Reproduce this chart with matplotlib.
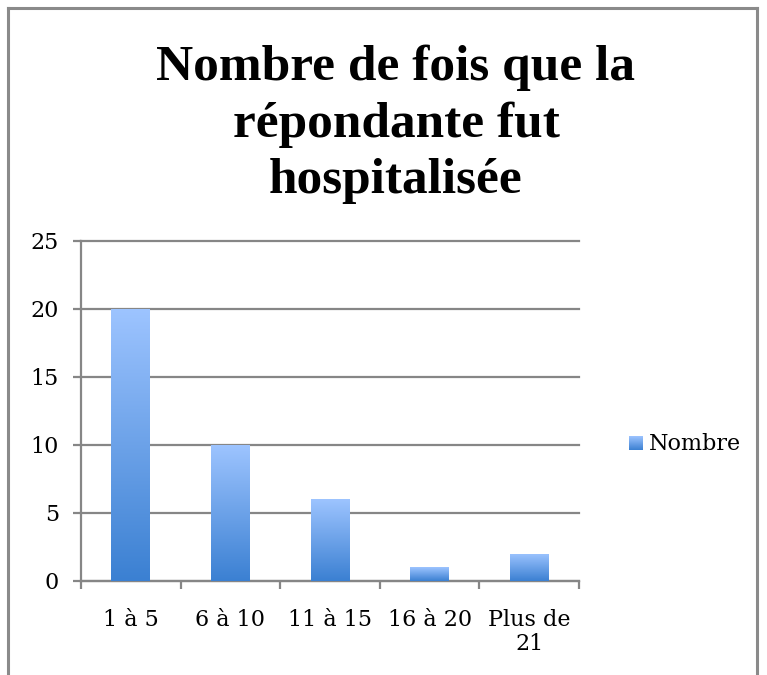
import matplotlib

matplotlib.use("Agg")
import matplotlib.pyplot as plt
import numpy as np
from matplotlib.colors import LinearSegmentedColormap
from matplotlib.lines import Line2D

# data
categories = ["1 à 5", "6 à 10", "11 à 15", "16 à 20", "Plus de\n21"]
values = [20, 10, 6, 1, 2]
series_name = "Nombre"
title = "Nombre de fois que la\nrépondante fut\nhospitalisée"
y_ticks = [0, 5, 10, 15, 20, 25]

GRID = "#868686"
blue_grad = LinearSegmentedColormap.from_list("bars", ["#3b80d2", "#9dc4ff"])
grad = np.linspace(0, 1, 256).reshape(-1, 1)

fig = plt.figure(figsize=(7.67, 6.75), dpi=100)
ax = fig.add_axes([0.1056, 0.1393, 0.6493, 0.5037])

x = np.arange(len(categories))
bars = ax.bar(x, values, width=0.39, color="none", zorder=3)
for b in bars:
    x0, y0 = b.get_x(), b.get_y()
    im = ax.imshow(grad, cmap=blue_grad, origin="lower", aspect="auto",
                   extent=[x0, x0 + b.get_width(), y0, y0 + b.get_height()],
                   zorder=3)
    im.set_clip_path(b)

ax.set_xlim(-0.5, len(categories) - 0.5)
ax.set_ylim(0, 25)
ax.set_yticks(y_ticks)
ax.grid(axis="y", color=GRID, linewidth=1.6, zorder=1)
for gl in ax.get_ygridlines():
    gl.set_clip_on(False)
ax.set_axisbelow(True)

# category boundaries carry the ticks, labels sit in between
ax.set_xticks(np.arange(len(categories) + 1) - 0.5)
ax.set_xticklabels([])
ax.set_xticks(x, minor=True)
ax.set_xticklabels(categories, minor=True, family="DejaVu Serif", fontsize=16,
                   linespacing=1.15)
ax.tick_params(axis="x", which="minor", length=0, pad=20)
ax.tick_params(axis="x", which="major", length=6, width=1.6, color=GRID)
ax.tick_params(axis="y", length=6, width=1.6, color=GRID, pad=10,
               labelsize=16)
for lab in ax.get_yticklabels():
    lab.set_family("DejaVu Serif")

for side in ("top", "right"):
    ax.spines[side].set_visible(False)
for side in ("left", "bottom"):
    ax.spines[side].set_color(GRID)
    ax.spines[side].set_linewidth(1.6)

fig.text(396 / 767, 0.816, title, ha="center", va="center",
         multialignment="center", family="Liberation Serif",
         fontweight="bold", fontsize=37, linespacing=1.28)

# legend: gradient swatch + label
lax = fig.add_axes([629 / 767, 1 - 450 / 675, 14 / 767, 14 / 675])
lax.imshow(grad, cmap=blue_grad, origin="lower", aspect="auto")
lax.set_axis_off()
fig.text(649 / 767, 1 - 444 / 675, series_name, va="center",
         family="DejaVu Serif", fontsize=16)

# outer chart frame (open at the bottom, as in the reference)
fx0, fx1, fy1 = 8 / 767, 757 / 767, 1 - 8 / 675
for xs, ys in (([fx0, fx0], [0, fy1]), ([fx0, fx1], [fy1, fy1]),
               ([fx1, fx1], [fy1, 0])):
    fig.add_artist(Line2D(xs, ys, transform=fig.transFigure, color="#8a8a8a",
                          linewidth=2.2))

fig.savefig("out.png", dpi=100)
